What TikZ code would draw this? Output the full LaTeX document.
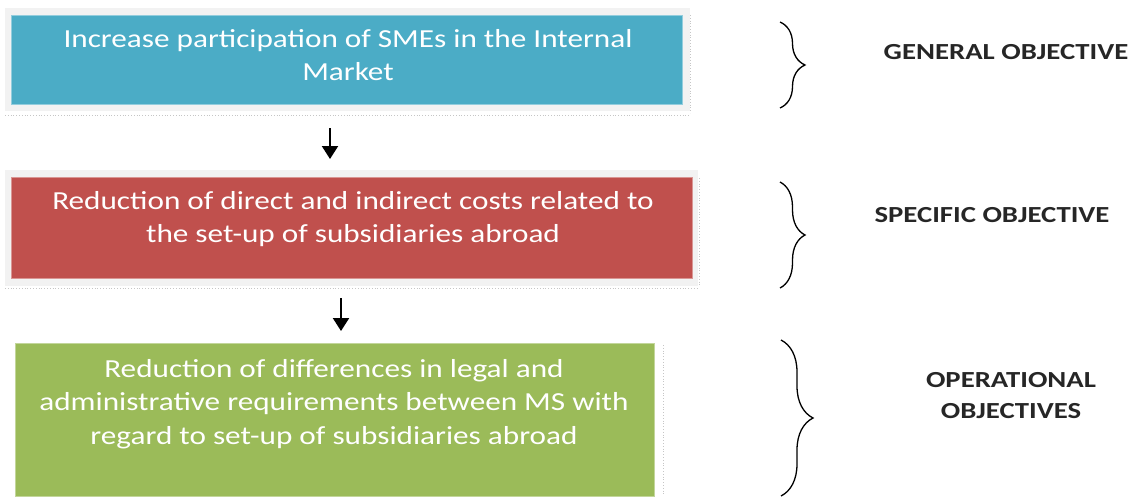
\documentclass[tikz,border=0pt]{standalone}
\usepackage{fontspec}
\setmainfont{Carlito}
\newfontfamily\boxfont{Carlito}[FakeStretch=1.2]
\newfontfamily\labelfont{Carlito}[FakeStretch=1.25]
\usetikzlibrary{arrows.meta,decorations.pathreplacing,calc}
\definecolor{cblue}{HTML}{4BACC6}
\definecolor{cred}{HTML}{C0504D}
\definecolor{cgreen}{HTML}{9BBB59}
\definecolor{cback}{HTML}{F2F2F2}
\definecolor{clabel}{HTML}{262626}
\tikzset{
  backdrop/.style={fill=cback, draw=none, inner sep=0pt, anchor=north west},
  objbox/.style={inner sep=0pt, anchor=north west},
  boxtext/.style={text=white, font=\boxfont\fontsize{26}{33.5}\selectfont, align=center},
  sidelabel/.style={text=clabel, font=\labelfont\bfseries\fontsize{23}{31}\selectfont, align=center},
  dotline/.style={draw=gray!45, dotted, line width=0.8pt},
  flowarrow/.style={line width=2.2pt, -{Triangle[width=16pt,length=13pt]}},
  bracket/.style={draw=black, line width=1.3pt, decorate},
}
\begin{document}
\begin{tikzpicture}[x=1pt,y=-1pt]
\useasboundingbox (0,0) rectangle (1134,498);
% box 1
\node[backdrop, minimum width=685pt, minimum height=103pt] (bg1) at (5,8) {};
\node[objbox, fill=cblue, draw=cblue!60!white, line width=0.6pt, minimum width=671pt, minimum height=89pt] (b1) at (11,15) {};
\node[boxtext] (t1) at (348,55) {Increase participation of SMEs in the Internal\\Market};
\draw[dotline] (690,15) -- (690,113);
\draw[dotline] (5,115) -- (690,115);
% box 2
\node[backdrop, minimum width=693pt, minimum height=116pt] (bg2) at (5,170) {};
\node[objbox, fill=cred, draw=cred!60!white, line width=0.6pt, minimum width=681pt, minimum height=101pt] (b2) at (11,177) {};
\node[boxtext] (t2) at (353,219) {Reduction of direct and indirect costs related to\\the set-up of subsidiaries abroad};
\draw[dotline] (699,178) -- (699,287);
\draw[dotline] (5,288) -- (699,288);
% box 3
\node[objbox, fill=cgreen, draw=cgreen!60!white, line width=0.6pt, minimum width=639pt, minimum height=153pt] (b3) at (15,343) {};
\node[boxtext] (t3) at (334,404) {Reduction of differences in legal and\\administrative requirements between MS with\\regard to set-up of subsidiaries abroad};
\draw[dotline] (663,345) -- (663,496);
% arrows
\coordinate (a1s) at (330,128);
\coordinate (a1e) at (330,159);
\coordinate (a2s) at (341,298);
\coordinate (a2e) at (341,331);
\draw[flowarrow] (a1s) -- (a1e);
\draw[flowarrow] (a2s) -- (a2e);
% braces
\coordinate (br1t) at (780,22);
\coordinate (br1b) at (780,108);
\coordinate (br2t) at (780,182);
\coordinate (br2b) at (780,288);
\coordinate (br3t) at (781,340);
\coordinate (br3b) at (781,496);
\draw[bracket, decoration={brace, amplitude=25pt}] (br1t) -- (br1b);
\draw[bracket, decoration={brace, amplitude=25pt}] (br2t) -- (br2b);
\draw[bracket, decoration={brace, amplitude=32pt}] (br3t) -- (br3b);
% labels
\node[sidelabel] (l1) at (1006,52) {GENERAL OBJECTIVE};
\node[sidelabel] (l2) at (992,215) {SPECIFIC OBJECTIVE};
\node[sidelabel] (l3) at (1011,396) {OPERATIONAL\\OBJECTIVES};
\end{tikzpicture}
\end{document}
